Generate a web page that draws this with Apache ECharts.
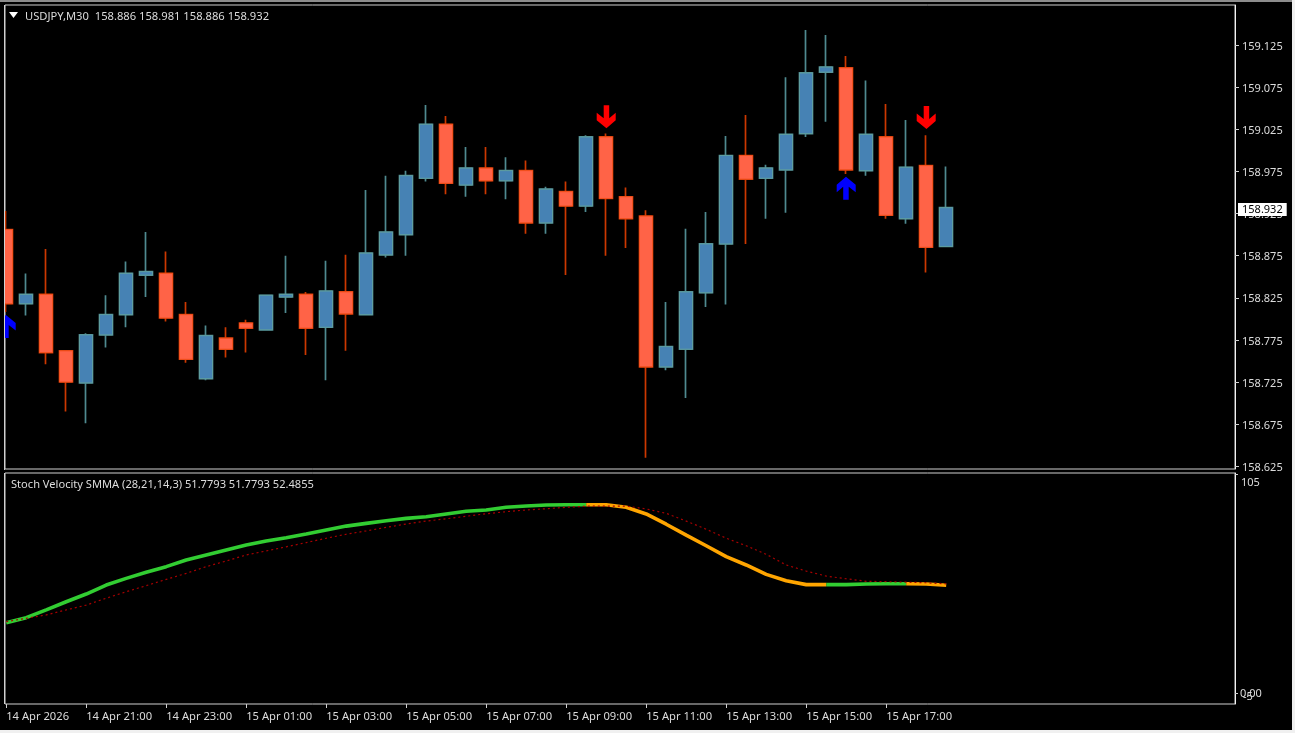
<!DOCTYPE html>
<html>
<head>
<meta charset="utf-8">
<title>USDJPY,M30</title>
<style>
  html, body { margin: 0; padding: 0; background: #000; }
  #chart { width: 1295px; height: 733px; }
</style>
<script src="https://cdn.jsdelivr.net/npm/echarts@6/dist/echarts.min.js"></script>
</head>
<body>
<div id="chart"></div>
<script>
// 30 minute bars
const opens = [158.906, 158.818, 158.829, 158.762, 158.724, 158.781, 158.805, 158.852, 158.854, 158.805, 158.729, 158.777,
  158.795, 158.787, 158.826, 158.829, 158.790, 158.832, 158.805, 158.876, 158.900, 158.967, 159.031, 158.959,
  158.979, 158.964, 158.976, 158.914, 158.951, 158.934, 159.016, 158.945, 158.922, 158.743, 158.764, 158.831,
  158.889, 158.994, 158.967, 158.977, 159.020, 159.093, 159.098, 158.976, 159.016, 158.919, 158.982, 158.886]
const highs = [158.928, 158.854, 158.883, 158.763, 158.783, 158.828, 158.868, 158.903, 158.880, 158.820, 158.792, 158.790,
  158.799, 158.828, 158.875, 158.832, 158.869, 158.876, 158.953, 158.970, 158.976, 159.054, 159.041, 159.004,
  159.004, 158.992, 158.988, 158.957, 158.963, 159.018, 159.020, 158.956, 158.929, 158.820, 158.907, 158.927,
  159.017, 159.042, 158.983, 159.087, 159.143, 159.137, 159.112, 159.083, 159.055, 159.036, 159.018, 158.981]
const lows = [158.808, 158.804, 158.746, 158.690, 158.676, 158.766, 158.790, 158.826, 158.797, 158.748, 158.727, 158.754,
  158.760, 158.786, 158.807, 158.757, 158.727, 158.762, 158.804, 158.873, 158.875, 158.963, 158.948, 158.945,
  158.948, 158.942, 158.901, 158.901, 158.852, 158.927, 158.875, 158.884, 158.635, 158.739, 158.706, 158.814,
  158.817, 158.889, 158.919, 158.926, 159.016, 159.034, 158.972, 158.970, 158.919, 158.913, 158.855, 158.886]
const closes = [158.818, 158.829, 158.760, 158.725, 158.781, 158.805, 158.854, 158.856, 158.801, 158.752, 158.780, 158.764,
  158.789, 158.828, 158.829, 158.789, 158.833, 158.806, 158.878, 158.903, 158.970, 159.031, 158.961, 158.979,
  158.964, 158.976, 158.914, 158.954, 158.934, 159.016, 158.943, 158.919, 158.743, 158.767, 158.832, 158.889,
  158.994, 158.966, 158.979, 159.019, 159.092, 159.099, 158.977, 159.019, 158.923, 158.980, 158.885, 158.932]

const stochMain = [33.9, 36.3, 40.0, 43.9, 47.6, 51.9, 55.1, 58.0, 60.7, 63.9, 66.3, 68.7,
  71.1, 73.0, 74.5, 76.3, 78.2, 80.1, 81.4, 82.7, 83.8, 84.6, 85.9, 87.2,
  87.8, 89.1, 89.7, 90.2, 90.3, 90.3, 90.3, 89.1, 85.9, 81.0, 75.8, 70.7,
  65.5, 61.5, 57.0, 54.0, 52.1, 52.1, 52.1, 52.4, 52.5, 52.5, 52.4, 51.78]
const stochSignal = [34.4, 36.0, 37.6, 40.0, 42.3, 45.6, 48.7, 51.6, 54.6, 57.5, 60.7, 63.4,
  66.3, 68.2, 70.2, 72.2, 74.3, 76.2, 77.8, 79.5, 81.1, 82.5, 83.6, 84.8,
  86.0, 87.0, 87.8, 88.4, 89.1, 89.6, 89.7, 89.7, 88.3, 86.2, 82.5, 78.6,
  74.3, 70.7, 66.6, 61.5, 58.6, 56.2, 54.9, 53.7, 53.5, 53.3, 53.0, 52.49]
// bars drawn orange, everything else is green
const stochFalling = [30, 31, 32, 33, 34, 35, 36, 37, 38, 39, 40, 41, 46, 47]

// signal arrows: [bar, price]
const sellArrows = [[30, 159.040], [46, 159.039]]
const buyArrows = [[0, 158.791], [42, 158.955]]

const priceTicks = [159.125, 159.075, 159.025, 158.975, 158.925, 158.875, 158.825, 158.775, 158.725, 158.675, 158.625]
const stochTicks = [105, 0]
const stochFloorTicks = [-5]
const timeLabels = ['14 Apr 2026', '14 Apr 21:00', '14 Apr 23:00', '15 Apr 01:00', '15 Apr 03:00', '15 Apr 05:00',
  '15 Apr 07:00', '15 Apr 09:00', '15 Apr 11:00', '15 Apr 13:00', '15 Apr 15:00', '15 Apr 17:00']
const timeTicks = timeLabels.map((_, i) => i * 4)
const lastPrice = 158.932

const FONT = '"Noto Sans", sans-serif'
const TEXT = '#dcdcdc'
const FRAME = '#d0d0d0'
const UP = { body: '#4682b4', border: '#5f9ea0', wick: '#4f8a90' }
const DOWN = { body: '#ff6347', border: '#f4511e', wick: '#cc3800' }
const ARROW = 'path://M7 0L12.5 0L12.5 13L19 7.5L19 15L9.75 23L0 15L0 7.5L7 13Z'

const bars = opens.map((o, i) => i)
const isUp = (i) => closes[i] >= opens[i]

const candleItem = (i, low, high, colors, key, width) => ({
  value: [i, opens[i], closes[i], low, high],
  itemStyle: {
    color: colors.body,
    color0: colors.body,
    borderColor: colors[key],
    borderColor0: colors[key],
    borderColorDoji: colors[key],
    borderWidth: width,
  },
})

// Wicks and body outlines differ in colour, so they go in two series
const wickData = bars.map((i) => candleItem(i, lows[i], highs[i], isUp(i) ? UP : DOWN, 'wick', 1.7))
const bodyData = bars.map((i) =>
  candleItem(i, Math.min(opens[i], closes[i]), Math.max(opens[i], closes[i]), isUp(i) ? UP : DOWN, 'border', 1),
)

const isFalling = (i) => stochFalling.includes(i)
// a segment takes the colour of the bar it ends on
const stochPart = (wantFalling) =>
  bars.map((i) => {
    const used = isFalling(i) === wantFalling || (i + 1 < bars.length && isFalling(i + 1) === wantFalling)
    return [i, used ? stochMain[i] : null]
  })

const chart = echarts.init(document.getElementById('chart'), null, { renderer: 'canvas' })

const xCommon = {
  type: 'value',
  min: -0.06,
  max: 61.44,
  splitLine: { show: false },
  axisLine: { show: false, onZero: false },
}

chart.setOption({
  animation: false,
  backgroundColor: '#000',
  title: [
    {
      text: 'USDJPY,M30  158.886 158.981 158.886 158.932',
      left: 25,
      top: 11,
      padding: 0,
      textStyle: { color: TEXT, fontFamily: FONT, fontSize: 11.2, fontWeight: 'normal' },
    },
    {
      text: 'Stoch Velocity SMMA (28,21,14,3) 51.7793 51.7793 52.4855',
      left: 11,
      top: 479,
      padding: 0,
      textStyle: { color: TEXT, fontFamily: FONT, fontSize: 11.1, fontWeight: 'normal' },
    },
  ],
  graphic: [
    { type: 'polygon', shape: { points: [[9, 12], [18, 12], [13.5, 18]] }, style: { fill: '#fff' } },
    // candles and arrows are not cut at the pane edge by the library
    { type: 'rect', z: 50, shape: { x: 0, y: 0, width: 5, height: 733 }, style: { fill: '#000' } },
    { type: 'rect', z: 51, shape: { x: 4, y: 5, width: 1, height: 465 }, style: { fill: FRAME } },
    { type: 'rect', z: 51, shape: { x: 4, y: 473, width: 1, height: 231 }, style: { fill: FRAME } },
    // terminal window edges
    { type: 'rect', z: 51, shape: { x: 0, y: 0, width: 1295, height: 2 }, style: { fill: '#8c8c8c' } },
    { type: 'rect', z: 51, shape: { x: 1292, y: 0, width: 3, height: 733 }, style: { fill: '#f0f0f0' } },
    { type: 'rect', z: 51, shape: { x: 0, y: 730, width: 1295, height: 3 }, style: { fill: '#f0f0f0' } },
  ],
  grid: [
    { left: 5, top: 5, width: 1230, height: 464, show: true, borderColor: FRAME, borderWidth: 1, backgroundColor: 'transparent' },
    { left: 5, top: 473, width: 1230, height: 231, show: true, borderColor: FRAME, borderWidth: 1, backgroundColor: 'transparent' },
  ],
  xAxis: [
    { ...xCommon, gridIndex: 0, axisTick: { show: false }, axisLabel: { show: false } },
    {
      ...xCommon,
      gridIndex: 1,
      axisTick: { show: true, length: 4, customValues: timeTicks, lineStyle: { color: FRAME } },
      axisLabel: {
        show: true,
        customValues: timeTicks,
        align: 'left',
        margin: 7,
        color: TEXT,
        fontFamily: FONT,
        fontSize: 11.2,
        formatter: (v) => timeLabels[v / 4],
      },
    },
  ],
  yAxis: [
    {
      type: 'value',
      gridIndex: 0,
      position: 'right',
      min: 158.6217,
      max: 159.1727,
      splitLine: { show: false },
      axisLine: { show: true, onZero: false, lineStyle: { color: '#f4f4f4' } },
      axisTick: { show: true, length: 4, customValues: priceTicks, lineStyle: { color: FRAME } },
      axisLabel: {
        customValues: priceTicks,
        margin: 7,
        color: TEXT,
        fontFamily: FONT,
        fontSize: 11,
        formatter: (v) => `{p|${v.toFixed(3)}}`,
        rich: {
          p: { padding: [3, 0, 0, 0], color: TEXT, fontFamily: FONT, fontSize: 11 },
        },
      },
    },
    {
      type: 'value',
      gridIndex: 1,
      position: 'right',
      min: -5,
      max: 105.5,
      splitLine: { show: false },
      axisLine: { show: true, onZero: false, lineStyle: { color: '#f4f4f4' } },
      axisTick: { show: true, length: 3, customValues: stochTicks, lineStyle: { color: FRAME } },
      axisLabel: {
        customValues: stochTicks,
        margin: 5,
        color: TEXT,
        fontFamily: FONT,
        fontSize: 11,
        // MT4 puts the top label under its tick
        formatter: (v) => (v === 105 ? '{low|105}' : '0.00'),
        rich: {
          low: { padding: [18, 0, 0, 1], color: TEXT, fontFamily: FONT, fontSize: 11 },
        },
      },
    },
    // the -5 label lands on top of 0.00, a separate axis keeps both from being dropped
    {
      type: 'value',
      gridIndex: 1,
      position: 'right',
      min: -5,
      max: 105.5,
      splitLine: { show: false },
      axisLine: { show: false, onZero: false },
      axisTick: { show: false },
      axisLabel: {
        customValues: stochFloorTicks,
        margin: 8,
        color: TEXT,
        fontFamily: FONT,
        fontSize: 11,
        formatter: (v) => `{high|${v}}`,
        rich: {
          high: { padding: [0, 0, 14, 0], color: TEXT, fontFamily: FONT, fontSize: 11 },
        },
      },
    },
  ],
  series: [
    {
      name: 'USDJPY wicks',
      type: 'candlestick',
      xAxisIndex: 0,
      yAxisIndex: 0,
      barWidth: 13,
      data: wickData,
      markLine: {
        silent: true,
        symbol: 'none',
        lineStyle: { color: 'rgba(0,0,0,0)', width: 0 },
        data: [{ yAxis: lastPrice }],
        label: {
          show: true,
          position: 'end',
          distance: 3,
          formatter: () => lastPrice.toFixed(3),
          color: '#000',
          backgroundColor: '#fff',
          padding: [0, 4, 2, 4],
          fontFamily: FONT,
          fontSize: 11,
        },
      },
    },
    {
      name: 'USDJPY bodies',
      type: 'candlestick',
      xAxisIndex: 0,
      yAxisIndex: 0,
      barWidth: 13,
      data: bodyData,
    },
    {
      name: 'Sell',
      type: 'scatter',
      xAxisIndex: 0,
      yAxisIndex: 0,
      symbol: ARROW,
      symbolSize: [19, 23],
      itemStyle: { color: '#ff0000', opacity: 1 },
      data: sellArrows,
    },
    {
      name: 'Buy',
      type: 'scatter',
      xAxisIndex: 0,
      yAxisIndex: 0,
      symbol: ARROW,
      symbolSize: [19, 23],
      symbolRotate: 180,
      itemStyle: { color: '#0000ff', opacity: 1 },
      data: buyArrows,
    },
    {
      name: 'Stoch rising',
      type: 'line',
      xAxisIndex: 1,
      yAxisIndex: 1,
      symbol: 'none',
      connectNulls: false,
      lineStyle: { color: '#32cd32', width: 3.6 },
      data: stochPart(false),
    },
    {
      name: 'Stoch falling',
      type: 'line',
      xAxisIndex: 1,
      yAxisIndex: 1,
      symbol: 'none',
      connectNulls: false,
      lineStyle: { color: '#ffa500', width: 3.6 },
      data: stochPart(true),
    },
    {
      name: 'Stoch signal',
      type: 'line',
      xAxisIndex: 1,
      yAxisIndex: 1,
      symbol: 'none',
      lineStyle: { color: '#a80000', width: 1.2, type: [2, 3] },
      data: bars.map((i) => [i, stochSignal[i]]),
    },
  ],
})
</script>
</body>
</html>
